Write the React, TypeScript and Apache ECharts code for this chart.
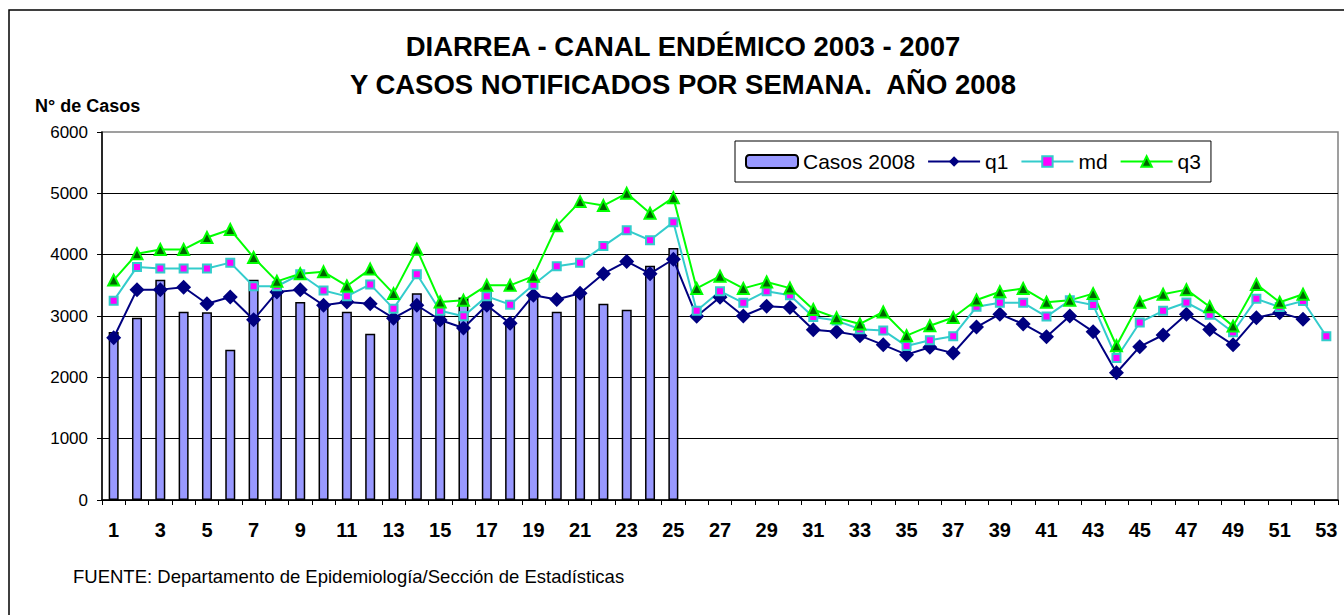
import React, { useEffect, useRef } from "react";
import * as echarts from "echarts";

const weeks = [
  "1", "2", "3", "4", "5", "6", "7", "8", "9", "10",
  "11", "12", "13", "14", "15", "16", "17", "18", "19", "20",
  "21", "22", "23", "24", "25", "26", "27", "28", "29", "30",
  "31", "32", "33", "34", "35", "36", "37", "38", "39", "40",
  "41", "42", "43", "44", "45", "46", "47", "48", "49", "50",
  "51", "52", "53",
];

const casos2008 = [
  2740, 2970, 3590, 3070, 3060, 2450, 3590, 3560, 3230, 3180,
  3070, 2710, 2960, 3370, 3150, 3300, 3390, 2900, 3340, 3070,
  3340, 3200, 3100, 3820, 4110,
];

const q1 = [
  2645, 3430, 3430, 3468, 3200, 3310, 2940, 3390, 3430, 3175,
  3230, 3200, 2965, 3175, 2935, 2805, 3175, 2880, 3340, 3270,
  3370, 3690, 3890, 3690, 3925, 2995, 3305, 3000, 3160, 3140,
  2775, 2745, 2680, 2530, 2370, 2490, 2395, 2820, 3030, 2870,
  2660, 3000, 2745, 2075, 2500, 2690, 3030, 2780, 2530, 2970,
  3055, 2945, null,
];

const md = [
  3250, 3800, 3775, 3775, 3775, 3870, 3485, 3485, 3680, 3415,
  3320, 3515, 3120, 3680, 3085, 2995, 3320, 3185, 3510, 3810,
  3870, 4140, 4400, 4235, 4530, 3085, 3405, 3215, 3405, 3340,
  2985, 2925, 2785, 2765, 2510, 2605, 2670, 3150, 3215, 3215,
  2990, 3255, 3180, 2315, 2895, 3085, 3220, 3020, 2735, 3280,
  3145, 3245, 2670,
];

const q3 = [
  3585, 4015, 4085, 4085, 4280, 4410, 3955, 3565, 3690, 3720,
  3490, 3765, 3365, 4090, 3230, 3255, 3500, 3500, 3650, 4470,
  4865, 4800, 5000, 4675, 4930, 3450, 3650, 3450, 3555, 3455,
  3105, 2970, 2870, 3065, 2680, 2840, 2975, 3260, 3395, 3450,
  3225, 3255, 3365, 2515, 3225, 3355, 3430, 3150, 2835, 3515,
  3225, 3355, null,
];

const FONT = "'Liberation Sans', Arial, sans-serif";

export default function App() {
  const ref = useRef<HTMLDivElement>(null);

  useEffect(() => {
    if (!ref.current) return;
    const chart = echarts.init(ref.current, undefined, { renderer: "svg" });
    chart.setOption({
      animation: false,
      backgroundColor: "#ffffff",
      textStyle: { fontFamily: FONT },
      title: [
        {
          text: "DIARREA - CANAL ENDÉMICO 2003 - 2007\nY CASOS NOTIFICADOS POR SEMANA.  AÑO 2008",
          left: 683,
          top: 27,
          padding: 0,
          textAlign: "center",
          textStyle: {
            fontFamily: FONT,
            fontSize: 27.5,
            fontWeight: "bold",
            color: "#000",
            lineHeight: 38,
          },
        },
        {
          text: "N° de Casos",
          left: 35,
          top: 97,
          padding: 0,
          textStyle: { fontFamily: FONT, fontSize: 18, fontWeight: "bold", color: "#000" },
        },
        {
          text: "FUENTE: Departamento de Epidemiología/Sección de Estadísticas",
          left: 73,
          top: 567,
          padding: 0,
          textStyle: { fontFamily: FONT, fontSize: 18.5, fontWeight: "normal", color: "#000" },
        },
      ],
      graphic: [
        {
          type: "rect",
          shape: { x: 9, y: 10, width: 1345, height: 620 },
          style: { fill: "none", stroke: "#000", lineWidth: 1.5 },
          z: -1,
        },
      ],
      legend: {
        left: 735,
        top: 141,
        padding: [10, 10],
        itemGap: 12,
        itemWidth: 52,
        itemHeight: 13,
        borderColor: "#000",
        borderWidth: 1,
        backgroundColor: "#fff",
        textStyle: { fontFamily: FONT, fontSize: 21, color: "#000" },
        data: ["Casos 2008", "q1", "md", "q3"],
      },
      grid: {
        left: 102,
        top: 132,
        right: 6,
        bottom: 115,
        show: true,
        borderColor: "#808080",
        borderWidth: 1.5,
        backgroundColor: "transparent",
      },
      xAxis: {
        type: "category",
        data: weeks,
        boundaryGap: true,
        axisLine: { lineStyle: { color: "#000", width: 1.5 } },
        axisTick: { show: true, interval: 0, length: 5, lineStyle: { color: "#000" } },
        axisLabel: {
          interval: 1,
          margin: 20,
          fontFamily: FONT,
          fontSize: 20,
          fontWeight: "bold",
          color: "#000",
        },
      },
      yAxis: {
        type: "value",
        min: 0,
        max: 6000,
        interval: 1000,
        axisLine: { show: true, lineStyle: { color: "#000", width: 1.5 } },
        axisTick: { show: true, length: 5, lineStyle: { color: "#000" } },
        axisLabel: {
          margin: 14,
          fontFamily: FONT,
          fontSize: 17,
          color: "#000",
          formatter: (v: number) => String(v),
        },
        splitLine: { show: true, showMaxLine: false, lineStyle: { color: "#000", width: 1 } },
      },
      series: [
        {
          name: "Casos 2008",
          type: "bar",
          data: casos2008,
          barWidth: 10,
          itemStyle: { color: "#9999FF", borderColor: "#000", borderWidth: 1.5 },
        },
        {
          name: "q1",
          type: "line",
          data: q1,
          symbol: "diamond",
          symbolSize: 15,
          lineStyle: { color: "#000080", width: 2 },
          itemStyle: { color: "#000080" },
        },
        {
          name: "md",
          type: "line",
          data: md,
          symbol: "rect",
          symbolSize: 8,
          lineStyle: { color: "#33CCCC", width: 2 },
          itemStyle: { color: "#FF00FF", borderColor: "#33CCCC", borderWidth: 2 },
        },
        {
          name: "q3",
          type: "line",
          data: q3,
          symbol: "triangle",
          symbolSize: 11,
          lineStyle: { color: "#00FF00", width: 2 },
          itemStyle: { color: "#006400", borderColor: "#00FF00", borderWidth: 2 },
        },
      ],
    });
    return () => chart.dispose();
  }, []);

  return (
    <div
      ref={ref}
      style={{ position: "fixed", left: 0, top: 0, width: 1344, height: 615 }}
    />
  );
}
